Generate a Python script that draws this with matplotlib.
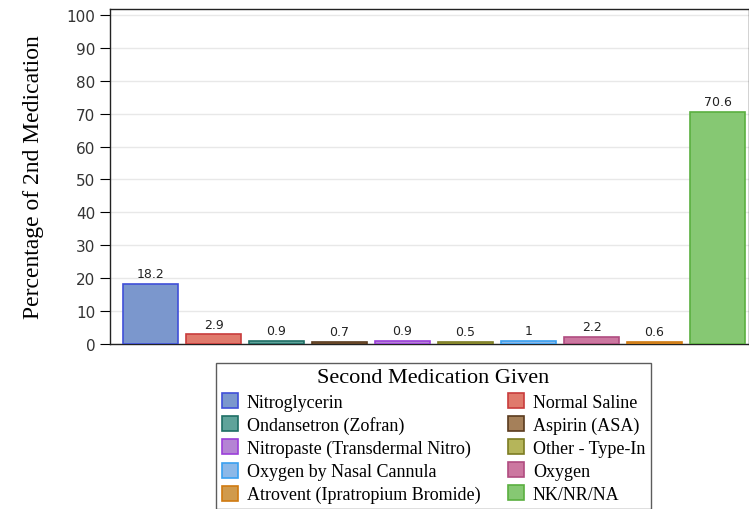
import matplotlib
matplotlib.use('Agg')
import matplotlib.pyplot as plt
from matplotlib.patches import Patch

# Chart data
medications = ['Nitroglycerin', 'Normal Saline', 'Ondansetron (Zofran)', 'Aspirin (ASA)',
               'Nitropaste (Transdermal Nitro)', 'Other - Type-In', 'Oxygen by Nasal Cannula',
               'Oxygen', 'Atrovent (Ipratropium Bromide)', 'NK/NR/NA']
percentages = [18.2, 2.9, 0.9, 0.7, 0.9, 0.5, 1, 2.2, 0.6, 70.6]
value_labels = ['18.2', '2.9', '0.9', '0.7', '0.9', '0.5', '1', '2.2', '0.6', '70.6']

fill_colors = ['#7b97cd', '#e07a6c', '#5fa39a', '#a5805a', '#b484d4',
               '#b5b55a', '#8cb8e8', '#cc77a0', '#d09a4c', '#86c873']
edge_colors = ['#3f4fd8', '#c83c3c', '#1f6f66', '#5a3b1e', '#9b3fd9',
               '#7c7c22', '#3aa0f0', '#b04c80', '#d07a10', '#5aaf40']

serif = 'Liberation Serif'

fig = plt.figure(figsize=(7.49, 5.10), dpi=100)
ax = fig.add_axes([110 / 749, 1 - 345 / 510, 1 - 110 / 749, (345 - 10) / 510])

x = list(range(len(medications)))
ax.bar(x, percentages, width=0.873, color=fill_colors, edgecolor=edge_colors, linewidth=1.2, zorder=3)
for xi, v, lab in zip(x, percentages, value_labels):
    ax.text(xi, v + 1.2, lab, ha='center', va='bottom', fontsize=9, family='DejaVu Sans', color='#222222')

ax.set_xlim(-0.643, 9.5)
ax.set_ylim(0, 101.8)
ax.set_yticks(range(0, 101, 10))
ax.set_xticks([])
ax.yaxis.grid(True, color='#e8e8e8', linewidth=1, zorder=0)
ax.tick_params(axis='y', direction='out', length=7.5, labelsize=11, pad=3, labelcolor='#333333')
ax.set_ylabel('Percentage of 2nd Medication', fontsize=17, family=serif, labelpad=16)
for s in ['top', 'left', 'bottom', 'right']:
    ax.spines[s].set_color('#222222')
    ax.spines[s].set_linewidth(1)

# Legend: matplotlib fills column by column, so split row-wise order into two columns
handles = [Patch(facecolor=f, edgecolor=e, linewidth=1.2, label=m)
           for f, e, m in zip(fill_colors, edge_colors, medications)]
ordered = handles[0::2] + handles[1::2]
leg = fig.legend(handles=ordered, ncol=2, loc='upper center', bbox_to_anchor=(433.5 / 749, 1 - 364 / 510),
                 title='Second Medication Given', frameon=True, fancybox=False,
                 prop={'family': serif, 'size': 13}, title_fontproperties={'family': serif, 'size': 16},
                 handlelength=0.9, handleheight=0.9, handletextpad=0.5, columnspacing=1.5,
                 labelspacing=0.3, borderpad=0.3, borderaxespad=0)
leg.get_frame().set_edgecolor('#333333')
leg.get_frame().set_linewidth(1)

fig.savefig('out.png', dpi=100)
